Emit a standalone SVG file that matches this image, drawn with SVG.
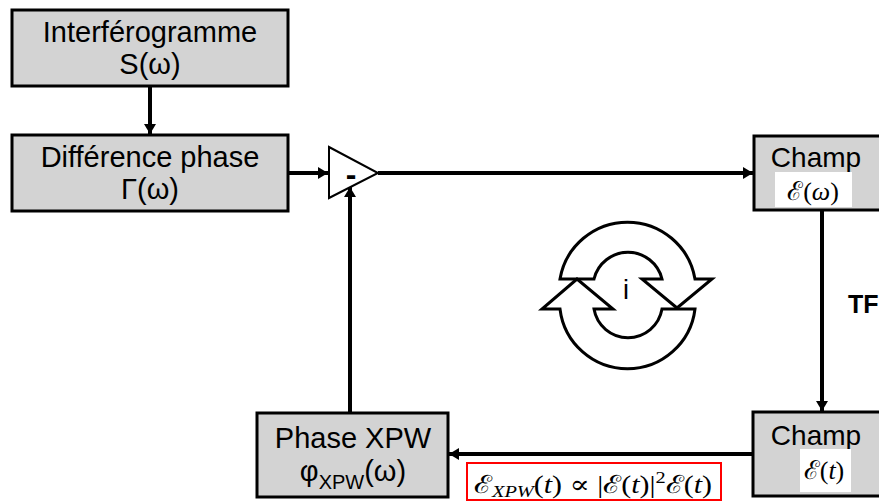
<svg xmlns="http://www.w3.org/2000/svg" width="879" height="503" viewBox="0 0 879 503">
<style>
.box{fill:#d3d3d3;stroke:#000;stroke-width:3}
.t{font-family:"Liberation Sans",Arial,sans-serif;font-size:29px;fill:#000;text-anchor:middle}
.c{stroke:#000;stroke-width:4;fill:none}
.m{font-family:"Liberation Serif","DejaVu Serif",serif;fill:#000}
.e{font-family:"DejaVu Serif",serif}
.cyc{fill:#fff;stroke:#000;stroke-width:3;stroke-linejoin:miter}
</style>
<defs>
<marker id="ah" markerUnits="userSpaceOnUse" markerWidth="12" markerHeight="12" refX="10" refY="6" orient="auto">
<path d="M0,0 L10,6 L0,12 Z" fill="#000"/>
</marker>
</defs>
<rect width="879" height="503" fill="#fff"/>
<g id="connectors">
<line class="c" x1="150" y1="86" x2="150" y2="134" marker-end="url(#ah)"/>
<line class="c" x1="288" y1="173" x2="328" y2="173" marker-end="url(#ah)"/>
<line class="c" x1="378" y1="173" x2="753" y2="173" marker-end="url(#ah)"/>
<line class="c" x1="822" y1="210" x2="822" y2="411" marker-end="url(#ah)"/>
<line class="c" x1="753" y1="454" x2="449" y2="454" marker-end="url(#ah)"/>
<line class="c" x1="350" y1="413" x2="350" y2="187" marker-end="url(#ah)"/>
</g>
<g id="interferogramme">
<rect class="box" x="12" y="10" width="276" height="76"/>
<text class="t" x="150" y="42">Interférogramme</text>
<text class="t" x="150" y="74">S(ω)</text>
</g>
<g id="difference">
<rect class="box" x="12" y="135" width="276" height="76"/>
<text class="t" x="150" y="167">Différence phase</text>
<text class="t" x="150" y="199">Γ(ω)</text>
</g>
<g id="soustracteur">
<path d="M329,147 L378,173 L329,198 Z" fill="#fff" stroke="#000" stroke-width="2"/>
<text x="351" y="185" font-family="Liberation Sans,Arial,sans-serif" font-weight="bold" font-size="32" text-anchor="middle">-</text>
</g>
<g id="champ-omega">
<rect class="box" x="754" y="136" width="130" height="74"/>
<text class="t" x="816" y="167" style="font-size:28px">Champ</text>
<rect x="775" y="172" width="77" height="35" fill="#fff"/>
<text class="m" x="813" y="200" font-size="26" text-anchor="middle"><tspan class="e">ℰ</tspan>(<tspan font-style="italic">ω</tspan>)</text>
</g>
<g id="tf">
<text x="848" y="313" font-family="Liberation Sans,Arial,sans-serif" font-weight="bold" font-size="25">TF</text>
</g>
<g id="champ-t">
<rect class="box" x="753" y="412" width="131" height="84"/>
<text class="t" x="816" y="445" style="font-size:28px">Champ</text>
<rect x="800" y="449" width="51" height="43" fill="#fff"/>
<text class="m" x="824" y="479" font-size="26" text-anchor="middle"><tspan class="e">ℰ</tspan>(<tspan font-style="italic">t</tspan>)</text>
</g>
<g id="phase-xpw">
<rect class="box" x="257" y="413" width="191" height="84"/>
<text class="t" x="353" y="448">Phase XPW</text>
<text class="t" x="353" y="481">φ<tspan font-size="20" dy="8">XPW</tspan><tspan dy="-8">(ω)</tspan></text>
</g>
<g id="formule">
<rect x="467" y="463" width="254" height="37" fill="#fff" stroke="#ff0000" stroke-width="2"/>
<text class="m" x="474" y="493" font-size="25" textLength="238" lengthAdjust="spacingAndGlyphs"><tspan class="e">ℰ</tspan><tspan font-size="17" font-style="italic" dy="4">XPW</tspan><tspan dy="-4">(</tspan><tspan font-style="italic">t</tspan>) ∝ |<tspan class="e">ℰ</tspan>(<tspan font-style="italic">t</tspan>)|<tspan font-size="17" dy="-10">2</tspan><tspan dy="10" class="e">ℰ</tspan>(<tspan font-style="italic">t</tspan>)</text>
</g>
<g id="iteration">
<path class="cyc" d="M560,279 A68.5,68.5 0 0 1 695,279 L712,279 L677,308 L642,279 L662,279 A35,35 0 0 0 594,279 Z"/>
<path class="cyc" d="M695,309 A68,68 0 0 1 560,309 L542,309 L577,279 L613,309 L594,309 A34.5,34.5 0 0 0 662,309 Z"/>
<text x="626" y="299" font-family="Liberation Sans,Arial,sans-serif" font-size="27" text-anchor="middle">i</text>
</g>
</svg>
